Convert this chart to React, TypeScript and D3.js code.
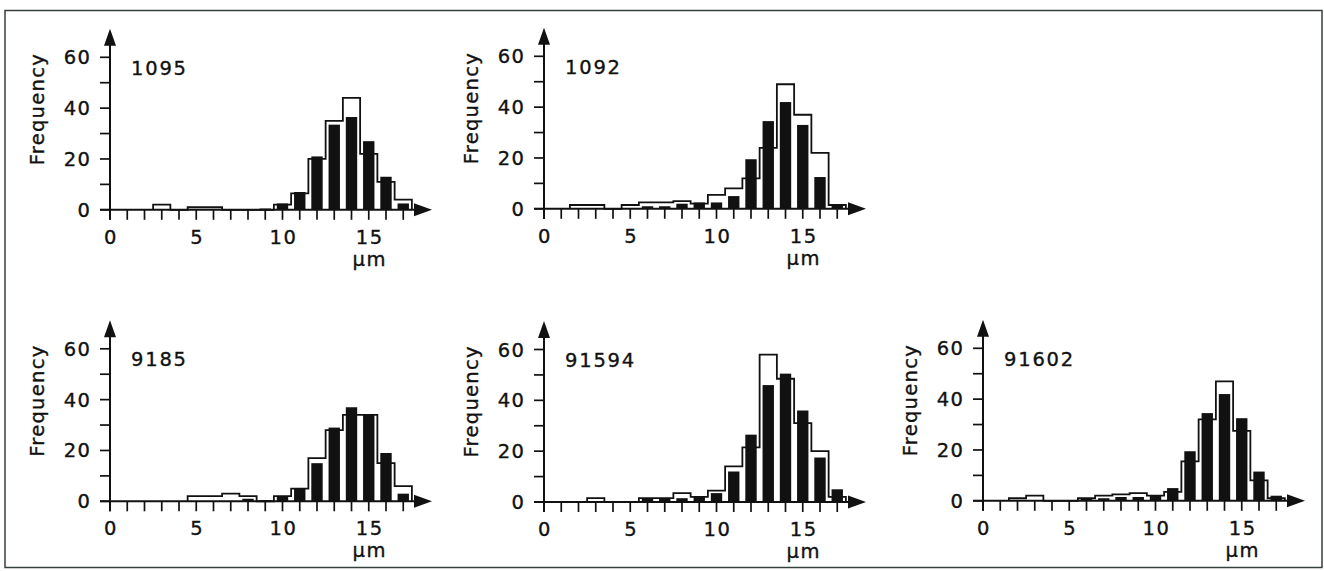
import React from "react";
import * as d3 from "d3";

// Bin centres (µm) 0..17
const bins: number[] = d3.range(0, 18);
const xTickLabels: number[] = [0, 5, 10, 15];
const yTicks: number[] = [0, 10, 20, 30, 40, 50, 60];
const yTickLabels: number[] = [0, 20, 40, 60];

const panelIds: string[] = ["1095", "1092", "9185", "91594", "91602"];

// Open (outline) histogram values
const outline1095: number[] = [0, 0, 0, 2, 0, 1, 1, 0, 0, 0, 2, 6.5, 20, 35, 44, 22, 11, 4];
const outline1092: number[] = [0, 0, 1.5, 1.5, 0, 1.5, 2.5, 2.5, 3, 2, 5.5, 8, 12, 24, 49, 37, 22, 1.5];
const outline9185: number[] = [0, 0, 0, 0, 0, 2, 2, 3, 2, 0, 2, 5, 17, 28, 34, 34, 15, 6];
const outline91594: number[] = [0, 0, 0, 1.5, 0, 0, 1.5, 1.5, 3.5, 2, 4.5, 14, 21.5, 58, 48.5, 31, 20, 2];
const outline91602: number[] = [0, 0, 1, 2, 0, 0, 1, 2, 2.5, 3, 2, 3.5, 15.5, 32, 47, 27.5, 8, 1];

// Filled (black) histogram values
const black1095: number[] = [0, 0, 0, 0, 0, 0, 0, 0, 0, 0.5, 2.5, 7, 21, 33.5, 36.5, 27, 13, 2.5];
const black1092: number[] = [0, 0, 0, 0, 0, 0, 1, 1, 2, 2.5, 2.5, 5, 19.5, 34.5, 42, 33, 12.5, 1.5];
const black9185: number[] = [0, 0, 0, 0, 0, 0, 0, 0, 1, 0.5, 2, 5, 15, 29, 37, 34, 19, 3];
const black91594: number[] = [0, 0, 0, 0, 0, 0, 1.5, 1.5, 1.5, 2, 3.5, 12, 26.5, 46, 50.5, 36, 17.5, 5];
const black91602: number[] = [0, 0, 0, 0, 0, 0, 1, 1, 1.5, 1.5, 2, 5, 19.5, 34.5, 42, 32.5, 11.5, 2];

const outlines = [outline1095, outline1092, outline9185, outline91594, outline91602];
const blacks = [black1095, black1092, black9185, black91594, black91602];

// layout
const origins: [number, number][] = [
  [110, 209.8],
  [544, 208.8],
  [110, 501.3],
  [544, 502],
  [983, 500.8],
];

const FONT = "'DejaVu Sans', sans-serif";
const INK = "#111";
const FS = 19.5;
const TXT = { fontSize: FS, fontFamily: FONT, fill: INK, stroke: INK, strokeWidth: 0.35 };

function Panel({ id, ox, oy, outline, black }: { id: string; ox: number; oy: number; outline: number[]; black: number[] }) {
  const x = d3.scaleLinear().domain([0, 18]).range([ox, ox + 18 * 17.25]);
  const y = d3.scaleLinear().domain([0, 60]).range([oy, oy - 152.5]);

  const first = outline.findIndex((v) => v > 0);
  let last = outline.length - 1;
  while (last > 0 && outline[last] === 0) last--;
  const pts: [number, number][] = [[first - 0.5, 0]];
  for (let k = first; k <= last; k++) {
    pts.push([k - 0.5, outline[k]]);
    pts.push([k + 0.5, outline[k]]);
  }
  pts.push([last + 0.5, 0]);
  const line = d3
    .line<[number, number]>()
    .x((d) => x(d[0]))
    .y((d) => y(d[1]));

  const barW = 0.66;
  const xEnd = ox + 322;
  const yTop = oy - 181;

  return (
    <g>
      {/* outline histogram */}
      <path d={line(pts) || ""} fill="white" stroke={INK} strokeWidth={1.8} />
      {/* black bars */}
      {bins.map((k) =>
        black[k] > 0 ? (
          <rect
            key={k}
            x={x(k - barW / 2)}
            width={x(barW) - x(0)}
            y={y(black[k])}
            height={y(0) - y(black[k])}
            fill={INK}
          />
        ) : null
      )}
      {/* x axis */}
      <line x1={ox - 10} x2={xEnd - 16} y1={oy} y2={oy} stroke={INK} strokeWidth={2} />
      <path d={`M${xEnd},${oy} L${xEnd - 18},${oy - 6.5} L${xEnd - 18},${oy + 6.5} Z`} fill={INK} />
      {bins.map((k) => (
        <line key={"xt" + k} x1={x(k)} x2={x(k)} y1={oy} y2={oy + 10} stroke={INK} strokeWidth={1.7} />
      ))}
      {xTickLabels.map((v) => (
        <text key={"xl" + v} x={x(v) + 1} y={oy + 34} textAnchor="middle" letterSpacing={1.5} {...TXT}>
          {v}
        </text>
      ))}
      <text x={x(15) + 1} y={oy + 56} textAnchor="middle" letterSpacing={1.5} {...TXT}>
        μm
      </text>
      {/* y axis */}
      <line x1={ox} x2={ox} y1={oy + 10} y2={yTop + 15} stroke={INK} strokeWidth={2} />
      <path d={`M${ox},${yTop} L${ox - 6},${yTop + 17} L${ox + 6},${yTop + 17} Z`} fill={INK} />
      {yTicks.map((v) => (
        <line key={"yt" + v} x1={ox - 10} x2={ox} y1={y(v)} y2={y(v)} stroke={INK} strokeWidth={1.7} />
      ))}
      {yTickLabels.map((v) => (
        <text key={"yl" + v} x={ox - 19} y={y(v) + 7} textAnchor="end" letterSpacing={1.2} {...TXT}>
          {v}
        </text>
      ))}
      <text
        transform={`translate(${ox - 66},${y(40) + 1}) rotate(-90)`}
        textAnchor="middle"
        letterSpacing={1.3}
        {...TXT}
      >
        Frequency
      </text>
      <text x={ox + 21} y={y(60) + 17.5} letterSpacing={1.8} {...TXT}>
        {id}
      </text>
    </g>
  );
}

export default function App() {
  return (
    <div style={{ position: "absolute", left: 0, top: 0 }}>
      <svg width={1324} height={571} style={{ display: "block", background: "white" }}>
        <rect x={0} y={0} width={1324} height={571} fill="white" />
        <rect x={5} y={10.5} width={1317} height={557} fill="none" stroke="#34403a" strokeWidth={1.5} />
        {panelIds.map((id, i) => (
          <Panel key={id} id={id} ox={origins[i][0]} oy={origins[i][1]} outline={outlines[i]} black={blacks[i]} />
        ))}
      </svg>
    </div>
  );
}
